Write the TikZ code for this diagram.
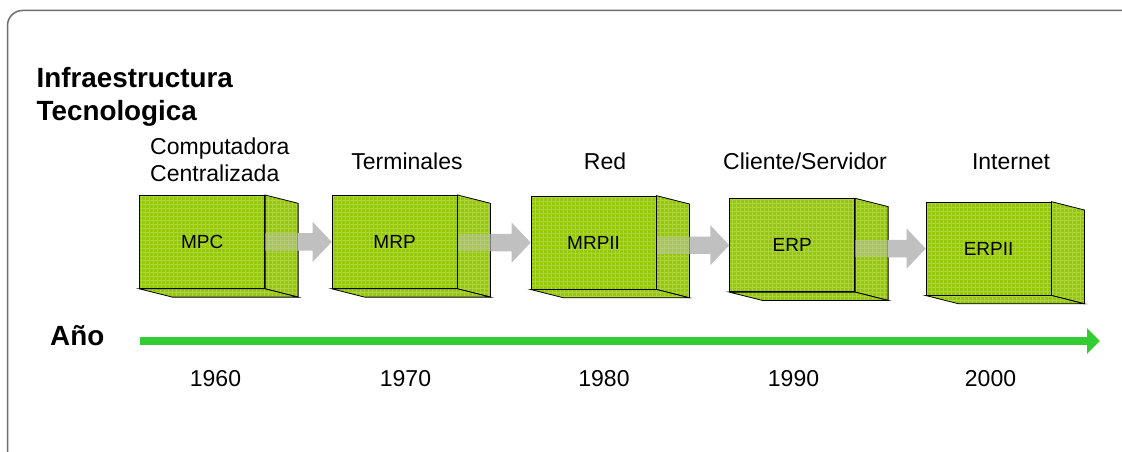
\documentclass[tikz,border=0pt]{standalone}
\usepackage{fontspec}
\setmainfont{Liberation Sans}
\usetikzlibrary{calc,arrows.meta}
\definecolor{boxgreen}{RGB}{150,200,10}
\definecolor{arrowgray}{RGB}{192,192,192}
\definecolor{timegreen}{RGB}{51,204,51}
\definecolor{framegray}{RGB}{110,110,110}
\tikzset{
  texture/.style={path picture={\draw[white, opacity=0.22, line width=0.7pt, step=4pt]
      (path picture bounding box.south west) grid (path picture bounding box.north east);}},
  front/.style={draw=black, line width=0.8pt, fill=boxgreen, texture, minimum width=125pt,
    minimum height=93pt, inner sep=0pt, font=\fontsize{19}{22}\selectfont, anchor=north west},
  face/.style={draw=black, line width=0.8pt, fill=boxgreen, texture, line join=miter},
  lbl/.style={font=\fontsize{23}{27}\selectfont, anchor=base, inner sep=0pt},
  ttl/.style={font=\bfseries\fontsize{27.8}{32}\selectfont, anchor=base west, inner sep=0pt},
  flow/.style={fill=arrowgray},
  flowin/.style={fill=arrowgray, fill opacity=0.45},
  timeline/.style={draw=timegreen, line width=8pt, -{Triangle[length=13pt,width=25pt]}},
  frame/.style={draw=framegray, line width=1.5pt, rounded corners=15pt},
}
\newcommand\drawcube[4]{%
  \node[front] (#1) at (#2,#3) {#4};
  \filldraw[face] (#1.north east) -- ++(33,8.3) -- ($(#1.south east)+(33,8.3)$) -- (#1.south east) -- cycle;
  \filldraw[face] (#1.south west) -- (#1.south east) -- ++(33,8.3) -- ($(#1.south west)+(33,8.3)$) -- cycle;
}
\newcommand\flowarrow[2]{%
  \fill[flow] ($(#1.east |- #2.west)+(33,-8.7)$) -- ($(#2.west)+(-19,-8.7)$) -- ($(#2.west)+(-19,-20)$)
    -- (#2.west) -- ($(#2.west)+(-19,20)$) -- ($(#2.west)+(-19,8.7)$) -- ($(#1.east |- #2.west)+(33,8.7)$) -- cycle;
  \fill[flowin] ($(#1.east |- #2.west)+(0,-8.7)$) rectangle ($(#1.east |- #2.west)+(33,8.7)$);
}
\begin{document}
\begin{tikzpicture}[x=1pt,y=-1pt]
  \useasboundingbox (0,0) rectangle (1122,452);
  \clip (0,0) rectangle (1122,452);
  \fill[white] (0,0) rectangle (1122,452);
  % frame
  \draw[frame] (7.5,480) -- (7.5,10.5) -- (1150,10.5);
  % titles
  \node[ttl] (tA) at (36.5,87.5) {Infraestructura};
  \node[ttl] (tB) at (36.5,121) {Tecnologica};
  \node[ttl] (ano) at (50,345) {Año};
  % stage labels
  \node[lbl, anchor=base west] (l1a) at (150,154) {Computadora};
  \node[lbl, anchor=base west] (l1b) at (150,181) {Centralizada};
  \node[lbl] (l2) at (407,169) {Terminales};
  \node[lbl] (l3) at (605,169) {Red};
  \node[lbl] (l4) at (805,169) {Cliente/Servidor};
  \node[lbl] (l5) at (1011,169) {Internet};
  % boxes
  \drawcube{b1}{139.3}{195}{MPC}
  \drawcube{b2}{331.7}{195}{MRP}
  \drawcube{b3}{530.7}{195.7}{MRPII}
  \drawcube{b4}{729.3}{198.3}{ERP}
  \drawcube{b5}{925.7}{201.7}{ERPII}
  % flow arrows
  \flowarrow{b1}{b2}
  \flowarrow{b2}{b3}
  \flowarrow{b3}{b4}
  \flowarrow{b4}{b5}
  % timeline
  \coordinate (tl0) at (140,341);
  \coordinate (tl1) at (1100,341);
  \draw[timeline] (tl0) -- (tl1);
  % years
  \node[lbl] (y1) at (215.5,386) {1960};
  \node[lbl] (y2) at (405.5,386) {1970};
  \node[lbl] (y3) at (604,386) {1980};
  \node[lbl] (y4) at (793.5,386) {1990};
  \node[lbl] (y5) at (990.5,386) {2000};
\end{tikzpicture}
\end{document}
